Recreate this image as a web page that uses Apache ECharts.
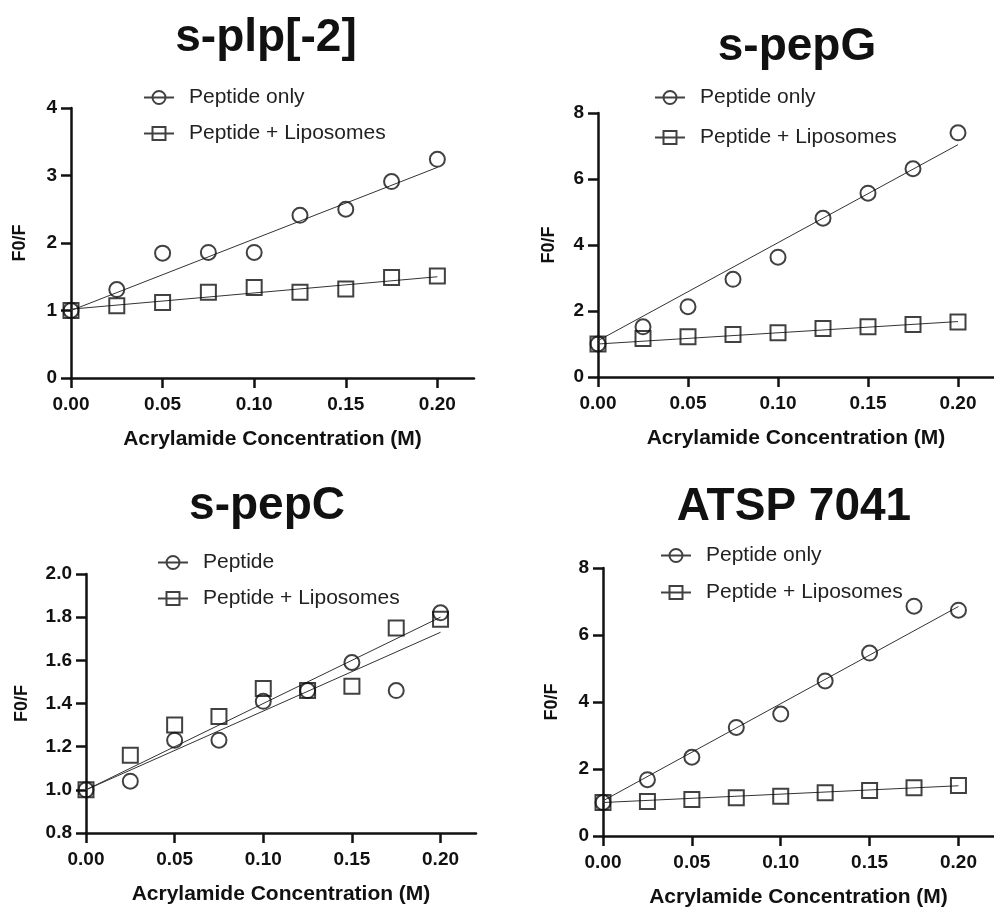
<!DOCTYPE html>
<html>
<head>
<meta charset="utf-8">
<title>Acrylamide quenching</title>
<script src="https://cdn.jsdelivr.net/npm/echarts@6.0.0/dist/echarts.min.js"></script>
<style>
  html, body { margin: 0; padding: 0; background: #fff; }
  #chart { width: 994px; height: 909px; }
</style>
</head>
<body>
<div id="chart"></div>
<script>
// acrylamide concentration (M)
const conc = [0, 0.025, 0.05, 0.075, 0.1, 0.125, 0.15, 0.175, 0.2];
const xTicks = [0, 0.05, 0.1, 0.15, 0.2];
const fitX = [0, 0.2];

// s-plp[-2]
const splpPeptide = [1.00, 1.31, 1.85, 1.86, 1.86, 2.41, 2.50, 2.91, 3.24];
const splpLipo = [1.00, 1.07, 1.12, 1.27, 1.34, 1.27, 1.32, 1.49, 1.51];
const splpFitPeptide = [1.00, 3.12];
const splpFitLipo = [1.02, 1.50];

// s-pepG
const pepGPeptide = [1.00, 1.52, 2.13, 2.96, 3.63, 4.81, 5.57, 6.31, 7.40];
const pepGLipo = [1.00, 1.17, 1.22, 1.29, 1.34, 1.47, 1.52, 1.59, 1.67];
const pepGFitPeptide = [1.10, 7.04];
const pepGFitLipo = [1.00, 1.68];

// s-pepC
const pepCPeptide = [1.00, 1.04, 1.23, 1.23, 1.41, 1.46, 1.59, 1.46, 1.82];
const pepCLipo = [1.00, 1.16, 1.30, 1.34, 1.47, 1.46, 1.48, 1.75, 1.79];
const pepCFitPeptide = [1.00, 1.73];
const pepCFitLipo = [1.00, 1.80];

// ATSP 7041
const atspPeptide = [1.00, 1.68, 2.35, 3.24, 3.64, 4.63, 5.46, 6.86, 6.74];
const atspLipo = [1.00, 1.03, 1.09, 1.14, 1.19, 1.29, 1.36, 1.44, 1.51];
const atspFitPeptide = [1.05, 6.85];
const atspFitLipo = [1.00, 1.50];

const panels = [
  { title: "s-plp[-2]", pepName: "Peptide only", pep: splpPeptide, lipo: splpLipo, fitPep: splpFitPeptide, fitLipo: splpFitLipo, yMin: 0, yMax: 4, yStep: 1, dec: 0 },
  { title: "s-pepG", pepName: "Peptide only", pep: pepGPeptide, lipo: pepGLipo, fitPep: pepGFitPeptide, fitLipo: pepGFitLipo, yMin: 0, yMax: 8, yStep: 2, dec: 0 },
  { title: "s-pepC", pepName: "Peptide", pep: pepCPeptide, lipo: pepCLipo, fitPep: pepCFitPeptide, fitLipo: pepCFitLipo, yMin: 0.8, yMax: 2.0, yStep: 0.2, dec: 1 },
  { title: "ATSP 7041", pepName: "Peptide only", pep: atspPeptide, lipo: atspLipo, fitPep: atspFitPeptide, fitLipo: atspFitLipo, yMin: 0, yMax: 8, yStep: 2, dec: 0 },
];
const lipoName = "Peptide + Liposomes";

// pixel layout of each panel
const layout = [
  { grid: { left: 71, top: 108, width: 403, height: 270 }, titleX: 261, titleTop: 10, legend: { left: 143, top: 87, gap: 15 }, yGap: 42 },
  { grid: { left: 598, top: 113, width: 399, height: 264 }, titleX: 792, titleTop: 19, legend: { left: 654, top: 87, gap: 19 }, yGap: 40 },
  { grid: { left: 86, top: 574, width: 390, height: 259 }, titleX: 262, titleTop: 478, legend: { left: 157, top: 552, gap: 15 }, yGap: 55 },
  { grid: { left: 603, top: 568, width: 401, height: 269 }, titleX: 789, titleTop: 479, legend: { left: 660, top: 545, gap: 16 }, yGap: 42 },
];

const font = '"Liberation Sans", Arial, Helvetica, sans-serif';
const ink = "#111";
const circleIcon = "path://M0,8 L30,8 M21.5,8 A6.5,6.5 0 1 1 8.5,8 A6.5,6.5 0 1 1 21.5,8 Z";
const squareIcon = "path://M0,8 L30,8 M8.5,1.5 L21.5,1.5 L21.5,14.5 L8.5,14.5 Z";

const chart = echarts.init(document.getElementById("chart"));

const option = {
  animation: false,
  backgroundColor: "#fff",
  title: [],
  legend: [],
  grid: [],
  xAxis: [],
  yAxis: [],
  series: [],
};

panels.forEach((p, i) => {
  const l = layout[i];
  option.title.push({
    text: p.title,
    left: l.titleX,
    top: l.titleTop,
    textAlign: "center",
    textStyle: { fontFamily: font, fontSize: 46, fontWeight: "bold", color: ink },
  });
  option.legend.push({
    orient: "vertical",
    left: l.legend.left,
    top: l.legend.top,
    padding: 0,
    itemGap: l.legend.gap,
    itemWidth: 30,
    itemHeight: 16,
    selectedMode: false,
    itemStyle: { borderWidth: 2 },
    data: [
      { name: p.pepName, icon: circleIcon },
      { name: lipoName, icon: squareIcon },
    ],
    textStyle: { fontFamily: font, fontSize: 21, color: "#222", lineHeight: 16, padding: [0, 0, 0, 10] },
  });
  option.grid.push(Object.assign({ containLabel: false }, l.grid));
  option.xAxis.push({
    type: "value",
    gridIndex: i,
    min: 0,
    max: 0.22,
    interval: 0.05,
    axisLine: { show: true, onZero: false, lineStyle: { color: ink, width: 2.5 } },
    axisTick: { show: true, length: 10, customValues: xTicks, lineStyle: { color: ink, width: 2.5 } },
    axisLabel: {
      customValues: xTicks,
      formatter: (v) => v.toFixed(2),
      margin: 17,
      fontFamily: font,
      fontSize: 19,
      fontWeight: "bold",
      color: ink,
    },
    splitLine: { show: false },
    name: "Acrylamide Concentration (M)",
    nameLocation: "middle",
    nameGap: 51,
    nameTextStyle: { fontFamily: font, fontSize: 21, fontWeight: "bold", color: ink },
  });
  option.yAxis.push({
    type: "value",
    gridIndex: i,
    min: p.yMin,
    max: p.yMax,
    interval: p.yStep,
    axisLine: { show: true, onZero: false, lineStyle: { color: ink, width: 2.5 } },
    axisTick: { show: true, length: 10, lineStyle: { color: ink, width: 2.5 } },
    axisLabel: {
      formatter: (v) => v.toFixed(p.dec),
      margin: 14,
      fontFamily: font,
      fontSize: 19,
      fontWeight: "bold",
      color: ink,
    },
    splitLine: { show: false },
    name: "F0/F",
    nameLocation: "middle",
    nameGap: l.yGap,
    nameTextStyle: { fontFamily: font, fontSize: 18, fontWeight: "bold", color: ink },
  });

  // fitted lines
  [p.fitPep, p.fitLipo].forEach((fit) => {
    option.series.push({
      type: "line",
      name: "fit",
      xAxisIndex: i,
      yAxisIndex: i,
      data: fitX.map((x, k) => [x, fit[k]]),
      symbol: "none",
      silent: true,
      lineStyle: { color: "#333", width: 1 },
      z: 2,
    });
  });

  // measured points
  [
    [p.pepName, p.pep, "circle"],
    [lipoName, p.lipo, "rect"],
  ].forEach(([name, vals, sym]) => {
    option.series.push({
      type: "scatter",
      name: name,
      xAxisIndex: i,
      yAxisIndex: i,
      data: conc.map((x, k) => [x, vals[k]]),
      symbol: sym,
      symbolSize: 15,
      itemStyle: { color: "rgba(0,0,0,0)", borderColor: ink, borderWidth: 2 },
      emphasis: { disabled: true },
      z: 3,
    });
  });
});

chart.setOption(option);
</script>
</body>
</html>
